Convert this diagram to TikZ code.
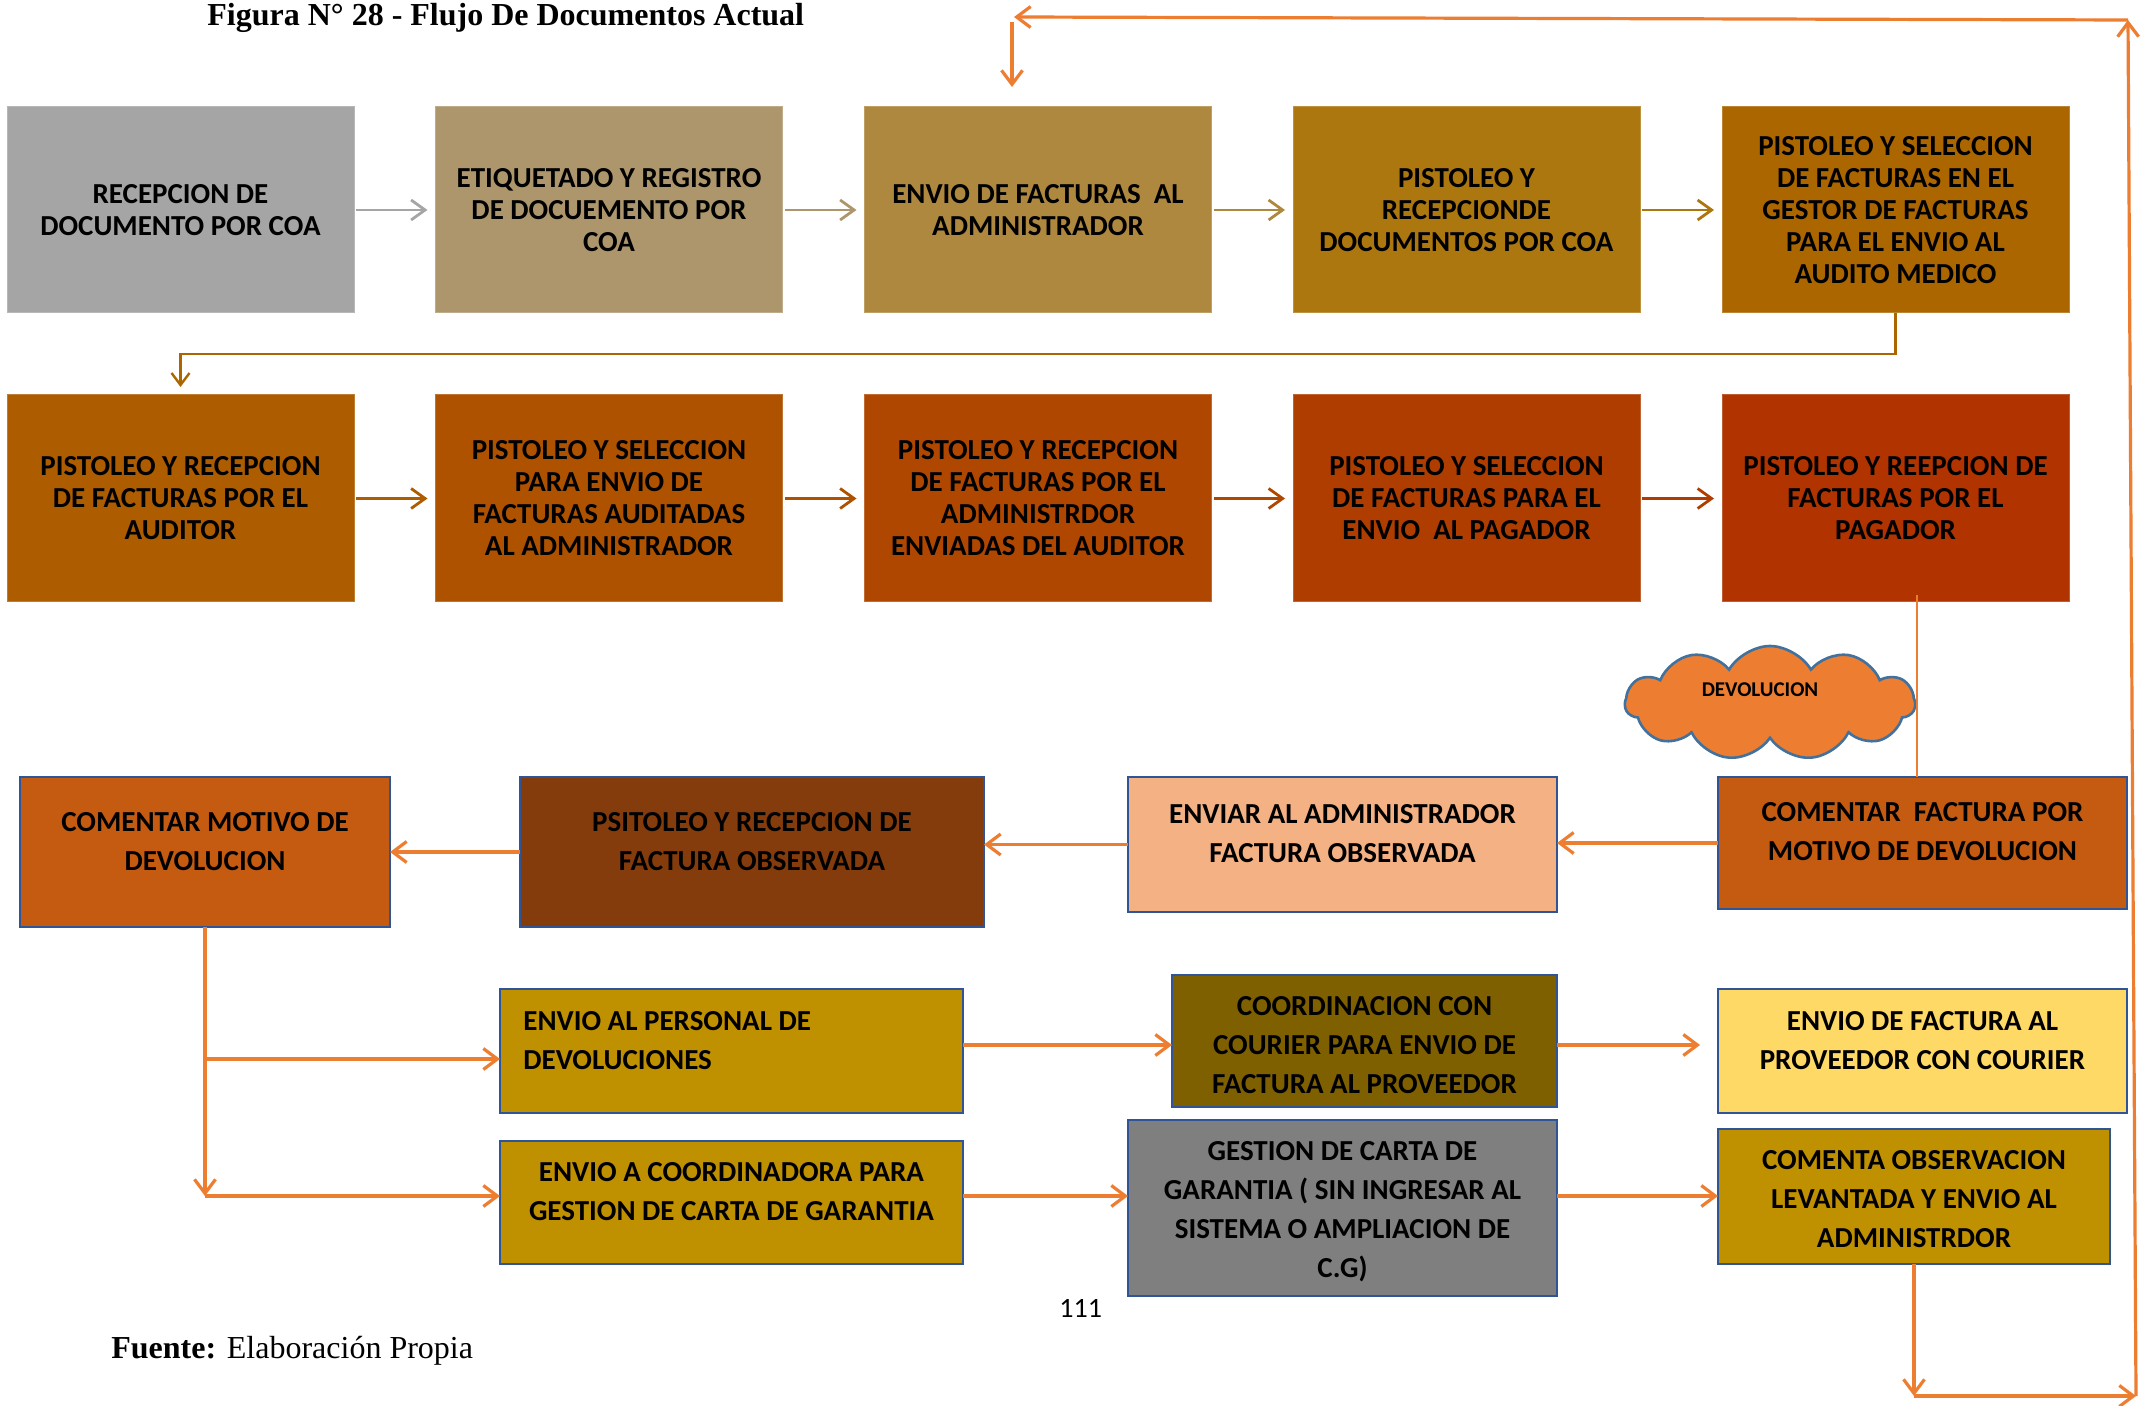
\documentclass[tikz,border=0pt]{standalone}
\usepackage{fontspec}
\setmainfont{Liberation Serif}
\newfontfamily\calib{Carlito}
\usetikzlibrary{arrows.meta,shapes.symbols}

% fills of the process boxes
\definecolor{gA}{HTML}{A5A5A5}
\definecolor{gB}{HTML}{AD966C}
\definecolor{gC}{HTML}{AE883E}
\definecolor{gD}{HTML}{AD7710}
\definecolor{gE}{HTML}{AB6600}
\definecolor{gF}{HTML}{AD5C00}
\definecolor{gG}{HTML}{AE5200}
\definecolor{gH}{HTML}{B04700}
\definecolor{gI}{HTML}{B03D00}
\definecolor{gJ}{HTML}{B03300}
\definecolor{rust}{HTML}{C55A11}
\definecolor{brownd}{HTML}{843C0C}
\definecolor{peach}{HTML}{F4B183}
\definecolor{gold}{HTML}{BF9000}
\definecolor{olive}{HTML}{7F6000}
\definecolor{paleyel}{HTML}{FFD966}
\definecolor{midgray}{HTML}{7F7F7F}
\definecolor{orangec}{HTML}{ED7D31}
\definecolor{frame}{HTML}{2F5597}
\definecolor{cloudrim}{HTML}{41719C}

\begin{document}
\begin{tikzpicture}[x=0.5pt,y=-0.5pt,
  flow/.style={rectangle, inner sep=0pt, outer sep=0pt, fill=#1, draw=#1!80!white,
    line width=0.5pt, minimum width=173.5pt, minimum height=103pt, align=center,
    font=\calib\bfseries\fontsize{14.5}{16}\selectfont},
  bbox/.style={rectangle, inner sep=0pt, outer sep=0pt, fill=#1, draw=frame,
    line width=1.3pt, align=center,
    font=\calib\bfseries\fontsize{14.5}{19.5}\selectfont},
  txt/.style={inner sep=0pt, align=center,
    font=\calib\bfseries\fontsize{14.5}{19.5}\selectfont},
  rowlink/.style={line width=1.4pt, draw=#1, shorten <=1pt, shorten >=4pt,
    -{Straight Barb[length=7pt,width=10pt]}},
  link/.style={line width=1.6pt, draw=orangec, -{Straight Barb[length=7pt,width=10.5pt]}},
  plain/.style={line width=1.6pt, draw=orangec}
]
\useasboundingbox (0,0) rectangle (2152,1406);

% captions
\node[anchor=base west, inner sep=0pt, font=\bfseries\fontsize{16}{19}\selectfont]
  (title) at (207,26) {Figura N° 28 - Flujo De Documentos Actual};
\node[anchor=base west, inner sep=0pt, font=\fontsize{16}{19}\selectfont]
  (src) at (111,1358) {\textbf{Fuente:} Elaboración Propia};
\node[anchor=base west, inner sep=0pt, font=\calib\fontsize{14}{16}\selectfont]
  (pageno) at (1059,1317) {111};

% first row
\node[flow=gA] (b1) at (180.5,210) {RECEPCION DE\\DOCUMENTO POR COA};
\node[flow=gB] (b2) at (609,210) {ETIQUETADO Y REGISTRO\\DE DOCUEMENTO POR\\COA};
\node[flow=gC] (b3) at (1038,210) {ENVIO DE FACTURAS\ \ AL\\ADMINISTRADOR};
\node[flow=gD] (b4) at (1466.5,210) {PISTOLEO Y\\RECEPCIONDE\\DOCUMENTOS POR COA};
\node[flow=gE] (b5) at (1895.5,210) {PISTOLEO Y SELECCION\\DE FACTURAS EN EL\\GESTOR DE FACTURAS\\PARA EL ENVIO AL\\AUDITO MEDICO};

% second row
\node[flow=gF, minimum height=103.5pt] (b6) at (180.5,498.5) {PISTOLEO Y RECEPCION\\DE FACTURAS POR EL\\AUDITOR};
\node[flow=gG, minimum height=103.5pt] (b7) at (609,498.5) {PISTOLEO Y SELECCION\\PARA ENVIO DE\\FACTURAS AUDITADAS\\AL ADMINISTRADOR};
\node[flow=gH, minimum height=103.5pt] (b8) at (1038,498.5) {PISTOLEO Y RECEPCION\\DE FACTURAS POR EL\\ADMINISTRDOR\\ENVIADAS DEL AUDITOR};
\node[flow=gI, minimum height=103.5pt] (b9) at (1466.5,498.5) {PISTOLEO Y SELECCION\\DE FACTURAS PARA EL\\ENVIO\ \ AL PAGADOR};
\node[flow=gJ, minimum height=103.5pt] (b10) at (1895.5,498.5) {PISTOLEO Y REEPCION DE\\FACTURAS POR EL\\PAGADOR};

\draw[rowlink=gA] (b1) -- (b2);
\draw[rowlink=gB] (b2) -- (b3);
\draw[rowlink=gC] (b3) -- (b4);
\draw[rowlink=gD] (b4) -- (b5);
\draw[rowlink=gF] (b6) -- (b7);
\draw[rowlink=gG] (b7) -- (b8);
\draw[rowlink=gH] (b8) -- (b9);
\draw[rowlink=gI] (b9) -- (b10);

\coordinate (r12) at (0,354);
\draw[line width=1.2pt, draw=gE, shorten >=4pt, -{Straight Barb[length=6pt,width=9pt]}]
  (b5.south) -- (b5.south |- r12) -| (b6.north);

% returned invoice branch
\node[cloud, cloud puffs=11, cloud puff arc=120, aspect=2.3, draw=cloudrim,
  line width=1.3pt, fill=orangec, minimum width=145pt, minimum height=57pt,
  inner sep=0pt] (dev) at (1770,703) {};
\node[inner sep=0pt, font=\calib\bfseries\fontsize{10.5}{12}\selectfont]
  (devtxt) at (1760,690) {DEVOLUCION};

% third row
\node[bbox=rust, minimum width=185pt, minimum height=75pt] (c1) at (205,852) {};
\node[txt] (c1t) at ([yshift=5pt]c1.center) {COMENTAR MOTIVO DE\\DEVOLUCION};
\node[bbox=brownd, minimum width=232pt, minimum height=75pt] (c2) at (752,852) {};
\node[txt] (c2t) at ([yshift=5pt]c2.center) {PSITOLEO Y RECEPCION DE\\FACTURA OBSERVADA};
\node[bbox=peach, minimum width=214.5pt, minimum height=67.5pt] (c3) at (1342.5,844.5) {};
\node[txt] (c3t) at ([yshift=5.5pt]c3.center) {ENVIAR AL ADMINISTRADOR\\FACTURA OBSERVADA};
\node[bbox=rust, minimum width=204.5pt, minimum height=66pt] (c4) at (1922.5,843) {};
\node[txt] (c4t) at ([yshift=5.5pt]c4.center) {COMENTAR\ \ FACTURA POR\\MOTIVO DE DEVOLUCION};

\coordinate (devtop) at (1917,595);
\draw[line width=1pt, draw=orangec] (devtop) -- (devtop |- c4.north);

\draw[link] (c4.west) -- (c4.west -| c3.east);
\draw[link] (c3.west) -- (c3.west -| c2.east);
\draw[link] (c2.west) -- (c2.west -| c1.east);

% fourth row
\node[bbox=gold, minimum width=231.5pt, minimum height=62pt] (d1) at (731.5,1051) {};
\node[txt, align=left, anchor=west] (d1t) at ([xshift=11.5pt,yshift=5pt]d1.west) {ENVIO AL PERSONAL DE\\DEVOLUCIONES};
\node[bbox=gold, minimum width=231.5pt, minimum height=61.5pt] (d2) at (731.5,1202.5) {};
\node[txt] (d2t) at ([yshift=5.5pt]d2.center) {ENVIO A COORDINADORA PARA\\GESTION DE CARTA DE GARANTIA};
\node[bbox=olive, minimum width=192.5pt, minimum height=66pt] (d3) at (1364.5,1041) {};
\node[txt] (d3t) at ([yshift=-2pt]d3.center) {COORDINACION CON\\COURIER PARA ENVIO DE\\FACTURA AL PROVEEDOR};
\node[bbox=paleyel, minimum width=204.5pt, minimum height=62pt] (d4) at (1922.5,1051) {};
\node[txt] (d4t) at ([yshift=5pt]d4.center) {ENVIO DE FACTURA AL\\PROVEEDOR CON COURIER};
\node[bbox=midgray, minimum width=214.5pt, minimum height=88pt] (d5) at (1342.5,1208) {};
\node[txt] (d5t) at ([yshift=-2pt]d5.center) {GESTION DE CARTA DE\\GARANTIA ( SIN INGRESAR AL\\SISTEMA O AMPLIACION DE\\C.G)};
\node[bbox=gold, minimum width=196pt, minimum height=67.5pt] (d6) at (1914,1196.5) {};
\node[txt] (d6t) at ([yshift=-1.5pt]d6.center) {COMENTA OBSERVACION\\LEVANTADA Y ENVIO AL\\ADMINISTRDOR};

\coordinate (br1) at (205,1059);
\coordinate (br2) at (205,1196);
\coordinate (r4a) at (0,1045);
\draw[link] (c1.south) -- (br2);
\draw[link] (br1) -- (d1.west |- br1);
\draw[link] (br2) -- (d2.west |- br2);
\draw[link] (d1.east |- r4a) -- (d3.west |- r4a);
\draw[link, shorten >=9pt] (d3.east |- r4a) -- (d4.west |- r4a);
\draw[link] (d2.east |- br2) -- (d5.west |- br2);
\draw[link] (d5.east |- br2) -- (d6.west |- br2);

% loop back to the top row
\coordinate (fbA) at (1914,1396);
\coordinate (fbB) at (2136,1396);
\coordinate (fbC) at (2128,20);
\coordinate (fbD) at (1014,17);
\coordinate (fbE) at (1012,22);
\draw[link] (d6.south) -- (fbA);
\draw[link] (fbA) -- (fbB);
\draw[link] (fbB) -- (fbC);
\draw[link] (fbC) -- (fbD);
\draw[link, shorten >=10pt] (fbE) -- (b3.north -| fbE);
\end{tikzpicture}
\end{document}
